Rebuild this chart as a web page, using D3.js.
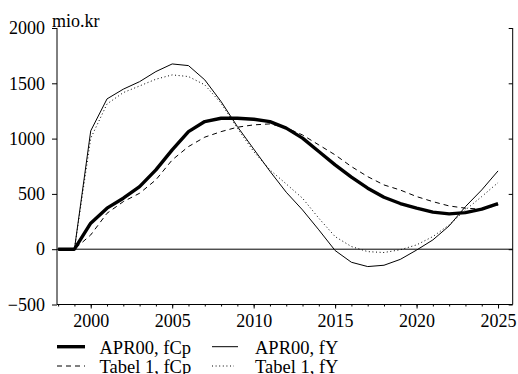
<!DOCTYPE html>
<html>
<head>
<meta charset="utf-8">
<script src="https://cdn.jsdelivr.net/npm/d3@7"></script>
<style>
  html, body { margin: 0; padding: 0; background: #fff; }
  svg { display: block; }
</style>
</head>
<body>
<svg id="chart" width="518" height="374"></svg>
<script>
// Annual series, mio.kr
const years = d3.range(1998, 2026);
const apr00_fCp = [0, 0, 235, 371, 461, 566, 717, 898, 1063, 1154, 1184, 1184, 1175, 1154, 1095, 1004, 883, 762, 651, 552, 470, 413, 371, 335, 319, 331, 362, 412];
const apr00_fY  = [0, 0, 1070, 1359, 1447, 1515, 1606, 1675, 1660, 1531, 1335, 1109, 906, 705, 515, 355, 175, -12, -118, -157, -145, -92, -8, 84, 211, 385, 536, 708];
const tabel1_fCp = [0, 0, 129, 325, 430, 506, 627, 807, 928, 1013, 1063, 1103, 1124, 1133, 1098, 1033, 943, 853, 747, 656, 581, 535, 476, 430, 391, 371, 362, 400];
const tabel1_fY  = [0, 0, 1003, 1313, 1416, 1476, 1537, 1576, 1561, 1486, 1320, 1094, 883, 717, 590, 461, 280, 114, 24, -22, -30, -5, 39, 114, 220, 355, 476, 602];

const yTicks = [-500, 0, 500, 1000, 1500, 2000];
const xMajorTicks = [2000, 2005, 2010, 2015, 2020, 2025];
const xMinorTicks = d3.range(1998, 2026);

const series = [
  { name: "APR00, fCp",   values: apr00_fCp,  width: 3.4, dash: null,    len: 28 },
  { name: "APR00, fY",    values: apr00_fY,   width: 1,   dash: null,    len: 26 },
  { name: "Tabel 1, fCp", values: tabel1_fCp, width: 1,   dash: "5,4",   len: 28 },
  { name: "Tabel 1, fY",  values: tabel1_fY,  width: 1,   dash: "1,2.6", len: 22 }
];

const serif = "Liberation Serif";
const svg = d3.select("#chart").attr("font-family", serif);
const plotLeft = 57, plotRight = 512.7, plotTop = 28, plotBottom = 304.5;

const x = d3.scaleLinear().domain([1997.93, 2025.9]).range([plotLeft, plotRight]);
const y = d3.scaleLinear().domain([-500, 2000]).range([plotBottom, plotTop]);

// Left axis: ticks outward with labels
const yAxisL = d3.axisLeft(y).tickValues(yTicks).tickSize(5).tickPadding(7).tickFormat(d3.format("d"));
const gL = svg.append("g").attr("transform", `translate(${plotLeft},0)`).call(yAxisL);
gL.select(".domain").attr("d", `M0,${plotBottom}V${plotTop}`);

// Right axis: ticks inward, no labels
const yAxisR = d3.axisLeft(y).tickValues(yTicks).tickSize(4).tickFormat("");
const gR = svg.append("g").attr("transform", `translate(${plotRight},0)`).call(yAxisR);
gR.select(".domain").attr("d", `M0,${plotBottom}V${plotTop}`);

// Bottom axis: minor yearly ticks and labelled 5-year ticks
const gMinor = svg.append("g").attr("transform", `translate(0,${plotBottom})`)
  .call(d3.axisBottom(x).tickValues(xMinorTicks).tickSize(2).tickFormat(""));
gMinor.select(".domain").attr("d", `M${plotLeft},0H${plotRight}`);
const gMajor = svg.append("g").attr("transform", `translate(0,${plotBottom})`)
  .call(d3.axisBottom(x).tickValues(xMajorTicks).tickSize(4).tickPadding(6).tickFormat(d3.format("d")));
gMajor.select(".domain").remove();

[gL, gR, gMinor, gMajor].forEach(g => g.attr("font-family", serif).attr("font-size", 18));
svg.selectAll(".tick text").attr("fill", "#000").attr("font-family", serif);
svg.selectAll(".domain, .tick line").attr("stroke", "#000").attr("stroke-width", 1);

// Zero line
svg.append("line")
  .attr("x1", plotLeft).attr("x2", plotRight)
  .attr("y1", y(0)).attr("y2", y(0))
  .attr("stroke", "#000").attr("stroke-width", 1);

// Unit label
svg.append("text").attr("x", 52).attr("y", 26.5).attr("font-size", 18)
  .attr("font-family", serif).text("mio.kr");

// Series lines
const line = d3.line().x((d, i) => x(years[i])).y(d => y(d));
const drawOrder = [3, 2, 1, 0];
drawOrder.forEach(k => {
  const s = series[k];
  svg.append("path")
    .datum(s.values)
    .attr("d", line)
    .attr("fill", "none")
    .attr("stroke", "#000")
    .attr("stroke-width", s.width)
    .attr("stroke-linejoin", "round")
    .attr("stroke-dasharray", s.dash);
});

// Legend (two columns, two rows)
const legendPos = [
  { lx: 57,  ly: 346.7, tx: 99.5 },
  { lx: 212, ly: 346.7, tx: 255 },
  { lx: 57,  ly: 366,   tx: 99.5 },
  { lx: 212, ly: 366,   tx: 255 }
];
series.forEach((s, i) => {
  const p = legendPos[i];
  svg.append("line")
    .attr("x1", p.lx).attr("x2", p.lx + s.len)
    .attr("y1", p.ly).attr("y2", p.ly)
    .attr("stroke", "#000")
    .attr("stroke-width", s.width)
    .attr("stroke-dasharray", s.dash);
  svg.append("text")
    .attr("x", p.tx).attr("y", p.ly + 7.4)
    .attr("font-size", 18.5)
    .attr("font-family", serif)
    .text(s.name);
});
</script>
</body>
</html>
